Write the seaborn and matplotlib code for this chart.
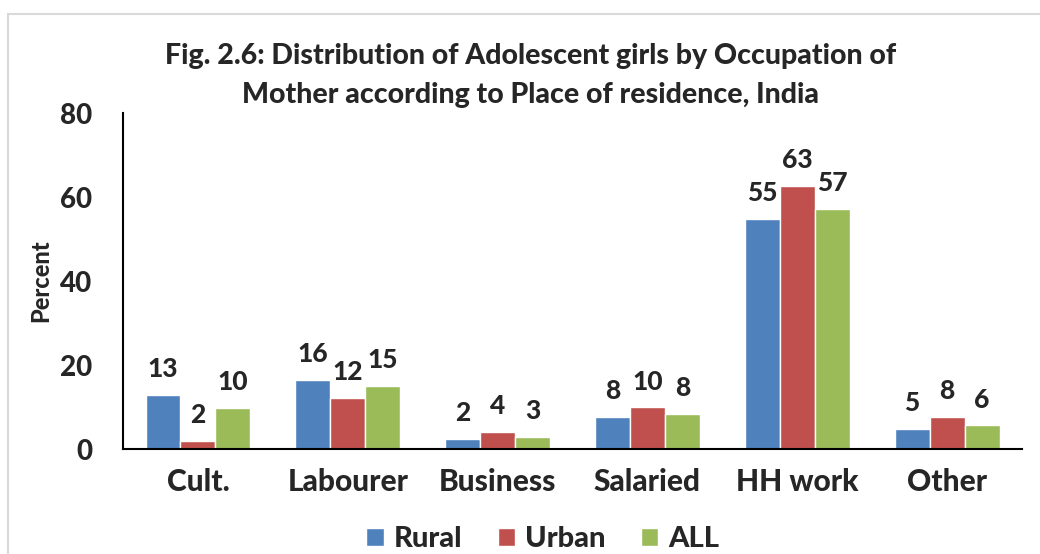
"""
Fig. 2.6 - Adolescent girls by occupation of mother, by place of residence.
Grouped bar chart redrawn with seaborn.
"""

import matplotlib

matplotlib.use("Agg")

import matplotlib.pyplot as plt
import pandas as pd
import seaborn as sns
from matplotlib.patches import Rectangle

# --------------------------------------------------------------------------- #
# Data
# --------------------------------------------------------------------------- #
categories = ["Cult.", "Labourer", "Business", "Salaried", "HH work", "Other"]
rural = [12.9, 16.4, 2.4, 7.6, 54.8, 4.7]
urban = [1.9, 12.1, 4.0, 9.9, 62.7, 7.7]
all_ = [9.8, 15.1, 2.9, 8.3, 57.1, 5.6]
series_names = ["Rural", "Urban", "ALL"]
y_ticks = [0, 20, 40, 60, 80]

colors = ["#4F81BD", "#C0504D", "#9BBB59"]

df = pd.DataFrame(
    {
        "Occupation": categories * 3,
        "Residence": [s for s in series_names for _ in categories],
        "Percent": rural + urban + all_,
    }
)

# --------------------------------------------------------------------------- #
# Style
# --------------------------------------------------------------------------- #
sns.set_style("white")
plt.rcParams["font.family"] = ["Lato", "DejaVu Sans"]
W = "black"  # heaviest weight available

fig = plt.figure(figsize=(10.4, 5.54), dpi=100)
ax = fig.add_axes([0.1183, 0.1895, 0.8644, 0.6065])

sns.barplot(
    data=df,
    x="Occupation",
    y="Percent",
    hue="Residence",
    palette=colors,
    width=0.7,
    saturation=1,
    ax=ax,
)

for cont in ax.containers:
    ax.bar_label(cont, fmt="%.0f", padding=10, fontsize=19, fontweight=W)

ax.set_ylim(0, 80)
ax.set_yticks(y_ticks)
ax.tick_params(axis="y", labelsize=20, length=0, pad=22)
ax.tick_params(axis="x", labelsize=21.5, length=0, pad=14)
for lbl in ax.get_xticklabels() + ax.get_yticklabels():
    lbl.set_fontweight(W)

ax.set_xlabel("")
ax.set_ylabel("Percent", fontsize=17, fontweight=W, labelpad=6)

for side in ["top", "right"]:
    ax.spines[side].set_visible(False)
for side in ["left", "bottom"]:
    ax.spines[side].set_color("black")
    ax.spines[side].set_linewidth(1.5)

fig.suptitle(
    "Fig. 2.6: Distribution of Adolescent girls by Occupation of\n"
    "Mother according to Place of residence, India",
    x=0.51,
    y=0.922,
    fontsize=20.5,
    fontweight=W,
    linespacing=1.62,
)

handles, labels = ax.get_legend_handles_labels()
ax.legend_.remove()
fig.legend(
    handles,
    labels,
    loc="center",
    bbox_to_anchor=(0.522, 0.027),
    ncol=3,
    frameon=False,
    handlelength=0.6,
    handleheight=0.6,
    handletextpad=0.35,
    columnspacing=1.2,
    prop={"weight": W, "size": 21},
)

# light grey chart-area border (runs off right and bottom edges)
fig.patches.append(
    Rectangle(
        (8 / 1040, -0.1),
        1.2,
        (554 - 14) / 554 + 0.1,
        transform=fig.transFigure,
        fill=False,
        edgecolor="#d9d9d9",
        linewidth=1.5,
    )
)

fig.savefig("out.png", dpi=100)
plt.close(fig)
